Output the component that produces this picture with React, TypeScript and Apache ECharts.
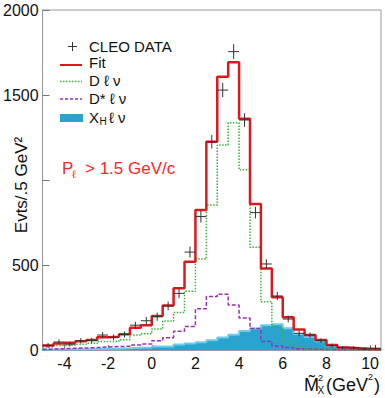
import React, { useEffect, useRef } from "react";
import * as echarts from "echarts";

// Histogram bins (lower edges, GeV^2), width 0.5
const BIN_LOW = [-5, -4.5, -4, -3.5, -3, -2.5, -2, -1.5, -1, -0.5, 0, 0.5, 1, 1.5, 2, 2.5, 3, 3.5, 4, 4.5, 5, 5.5, 6, 6.5, 7, 7.5, 8, 8.5, 9, 9.5, 10];
const BIN_END = 10.5;
const BIN_HALF = 0.25;

const FIT = [27, 38, 43, 51, 59, 75, 78, 92, 131, 145, 200, 262, 363, 519, 823, 1225, 1608, 1692, 1360, 859, 480, 311, 192, 120, 88, 59, 30, 15, 11, 7, 4];
const D_LNU = [18, 26, 29, 34, 39, 50, 50, 60, 88, 95, 123, 170, 220, 345, 535, 853, 1206, 1337, 1060, 605, 284, 135, 50, 18, 6, 4, 3, 2, 1, 1, 0];
const DSTAR_LNU = [5, 8, 10, 12, 14, 18, 20, 22, 30, 35, 55, 72, 110, 138, 242, 314, 328, 265, 188, 127, 50, 24, 14, 8, 5, 3, 2, 1, 1, 0, 0];
const XH_LNU = [3, 4, 4, 5, 6, 7, 8, 10, 13, 15, 20, 21, 33, 38, 45, 58, 74, 90, 112, 127, 146, 152, 128, 94, 77, 52, 25, 12, 9, 6, 4];

// CLEO data points (bin centres)
const DATA_X = [-4.75, -4.25, -3.75, -3.25, -2.75, -2.25, -1.75, -1.25, -0.75, -0.25, 0.25, 0.75, 1.25, 1.75, 2.25, 2.75, 3.25, 3.75, 4.25, 4.75, 5.25, 5.75, 6.25, 6.75, 7.25, 7.75, 8.25, 8.75, 9.25, 9.75, 10.25];
const DATA_Y = [27, 47, 34, 54, 56, 88, 75, 91, 146, 172, 196, 259, 333, 576, 785, 1225, 1529, 1755, 1353, 808, 506, 318, 182, 98, 88, 55, 26, 14, 12, 6, 10];
const DATA_ERR = [14, 15, 14, 16, 16, 18, 17, 18, 20, 22, 24, 26, 28, 32, 36, 40, 42, 44, 40, 34, 28, 24, 20, 16, 15, 13, 11, 10, 10, 8, 20];

const X_TICKS = [-4, -2, 0, 2, 4, 6, 8, 10];
const Y_TICKS_SHOWN = [0, 500, 1500, 2000];

const FONT = "Liberation Sans, Arial, Helvetica, sans-serif";
const RED = "#dc1a1e";
const GREEN = "#3fae3f";
const PURPLE = "#9a2fb3";
const BLUE = "#2aa4cf";
const BLUE_LIGHT = "#72cbe9";
const TEXT_RED = "#ff2626";

function stepData(vals: number[]) {
  const d = BIN_LOW.map((x, i) => [x, vals[i]]);
  d.push([BIN_END, vals[vals.length - 1]]);
  return d;
}

export default function App() {
  const ref = useRef<HTMLDivElement>(null);
  useEffect(() => {
    if (!ref.current) return;
    const chart = echarts.init(ref.current, null, { renderer: "svg" });
    const txt = (t: string, x: number, y: number, size: number, fill = "#111", extra: any = {}) => ({
      type: "text",
      x,
      y,
      ...extra,
      style: {
        text: t,
        font: `${size}px ${FONT}`,
        lineHeight: Math.round(size * 0.9),
        fill,
        align: "left",
        verticalAlign: "middle",
        textAlign: "left",
        textVerticalAlign: "middle",
      },
    });
    const ln = (x1: number, y1: number, x2: number, y2: number, stroke: string, lineWidth: number, lineDash?: number[]) => ({
      type: "line",
      shape: { x1, y1, x2, y2 },
      style: { stroke, lineWidth, lineDash },
    });
    chart.setOption({
      animation: false,
      backgroundColor: "#fff",
      grid: { left: 41, right: 4, top: 10, bottom: 48, show: true, borderColor: "#999", borderWidth: 1, backgroundColor: "transparent" },
      xAxis: {
        type: "value",
        min: -5,
        max: BIN_END,
        axisLine: { show: true, onZero: false, lineStyle: { color: "#999" } },
        axisTick: { show: true, inside: true, length: 5, customValues: X_TICKS, lineStyle: { color: "#777" } },
        axisLabel: { customValues: X_TICKS, margin: 5, fontSize: 16, fontFamily: FONT, color: "#111" },
        splitLine: { show: false },
      },
      yAxis: {
        type: "value",
        min: 0,
        max: 2000,
        interval: 500,
        axisLine: { show: true, onZero: false, lineStyle: { color: "#999" } },
        axisTick: { show: true, inside: true, length: 7, lineStyle: { color: "#777" } },
        axisLabel: {
          margin: 4,
          fontSize: 16,
          fontFamily: FONT,
          color: "#111",
          formatter: (v: number) => (Y_TICKS_SHOWN.indexOf(v) >= 0 ? String(v) : ""),
        },
        splitLine: { show: false },
      },
      series: [
        {
          name: "XH l nu",
          type: "line",
          step: "end",
          symbol: "none",
          data: stepData(XH_LNU),
          lineStyle: { color: BLUE_LIGHT, width: 2 },
          areaStyle: { color: BLUE, opacity: 1 },
        },
        {
          name: "D* l nu",
          type: "line",
          step: "end",
          symbol: "none",
          data: stepData(DSTAR_LNU),
          lineStyle: { color: PURPLE, width: 1.5, type: [4, 2] },
        },
        {
          name: "D l nu",
          type: "line",
          step: "end",
          symbol: "none",
          data: stepData(D_LNU),
          lineStyle: { color: GREEN, width: 1.5, type: [1.5, 1.5] },
        },
        {
          name: "Fit",
          type: "line",
          step: "end",
          symbol: "none",
          data: stepData(FIT),
          lineStyle: { color: RED, width: 2.5 },
        },
        {
          name: "CLEO DATA",
          type: "custom",
          data: DATA_X.map((x, i) => [x, DATA_Y[i], DATA_ERR[i]]),
          encode: { x: 0, y: 1 },
          renderItem: (params: any, api: any) => {
            const x = api.value(0);
            const y = api.value(1);
            const e = api.value(2);
            const l = api.coord([x - BIN_HALF, y]);
            const r = api.coord([x + BIN_HALF, y]);
            const t = api.coord([x, y + e]);
            const b = api.coord([x, Math.max(0, y - e)]);
            return {
              type: "group",
              children: [
                { type: "line", shape: { x1: l[0], y1: l[1], x2: r[0], y2: r[1] }, style: { stroke: "#333", lineWidth: 1 } },
                { type: "line", shape: { x1: t[0], y1: t[1], x2: b[0], y2: b[1] }, style: { stroke: "#333", lineWidth: 1 } },
              ],
            };
          },
          z: 5,
        },
      ],
      graphic: [
        // legend
        ln(68, 46.5, 77, 46.5, "#333", 1),
        ln(72.5, 42, 72.5, 51, "#333", 1),
        txt("CLEO DATA", 89, 46, 15),
        ln(60, 65, 82, 65, RED, 2),
        txt("Fit", 89, 62, 15),
        ln(60, 81.5, 82, 81.5, GREEN, 1.5, [1.5, 1.5]),
        txt("D ℓ ν", 89, 80, 15),
        ln(60, 99, 82, 99, PURPLE, 1.5, [3, 2]),
        txt("D* ℓ ν", 89, 98, 15),
        { type: "rect", shape: { x: 60, y: 114, width: 23, height: 8 }, style: { fill: BLUE } },
        txt("X", 89, 117, 15),
        txt("H", 99.5, 121, 10),
        txt("ℓ ν", 109, 117, 15),
        // cut label
        txt("P", 62, 168, 17, TEXT_RED),
        txt("ℓ", 72, 174, 11, TEXT_RED),
        txt("> 1.5 GeV/c", 85, 168, 17, TEXT_RED),
        // y axis title
        {
          type: "text",
          x: 21,
          y: 185,
          rotation: Math.PI / 2,
          style: { text: "Evts/.5 GeV²", font: `17px ${FONT}`, fill: "#111", align: "center", verticalAlign: "middle", textAlign: "center", textVerticalAlign: "middle" },
        },
        // x axis title
        txt("M̃", 304, 385, 18),
        txt("2", 318, 378, 9),
        txt("X", 317.5, 390, 10),
        txt("(GeV", 326, 385, 18),
        txt("2", 368, 377, 9),
        txt(")", 374, 385, 18),
      ],
    });
    return () => chart.dispose();
  }, []);
  return <div ref={ref} style={{ position: "absolute", left: 0, top: 0, width: 385, height: 398 }} />;
}
